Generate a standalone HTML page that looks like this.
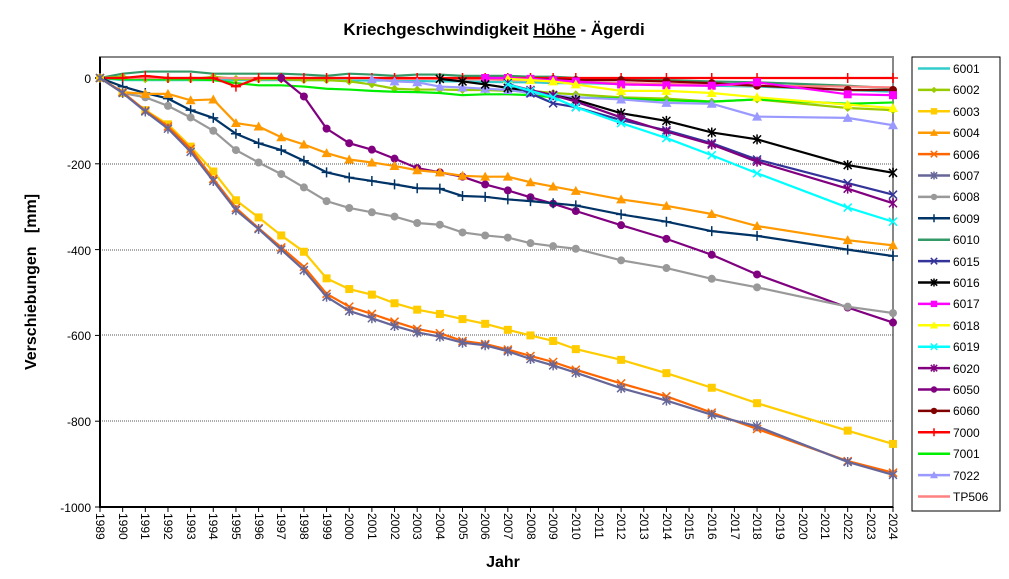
<!DOCTYPE html>
<html><head><meta charset="utf-8"><style>
body{margin:0;background:#fff;width:1009px;height:574px;overflow:hidden;font-family:"Liberation Sans",Arial,sans-serif}
svg text{font-family:"Liberation Sans",Arial,sans-serif}
</style></head><body>
<svg id="s" width="1009" height="574" xmlns="http://www.w3.org/2000/svg">
<rect width="1009" height="574" fill="#fff"/>
<text x="494" y="35" font-size="17" font-weight="bold" text-anchor="middle">Kriechgeschwindigkeit <tspan text-decoration="underline">Höhe</tspan> - Ägerdi</text>
<text transform="translate(36,282) rotate(-90)" font-size="16" font-weight="bold" text-anchor="middle" xml:space="preserve">Verschiebungen   [mm]</text>
<text x="503" y="567" font-size="16" font-weight="bold" text-anchor="middle">Jahr</text>
<rect x="100" y="57" width="793" height="450" fill="none" stroke="#888" stroke-width="2"/>
<g stroke="#555" stroke-dasharray="1,1" stroke-width="1">
<line x1="100" y1="164" x2="893" y2="164"/><line x1="100" y1="250" x2="893" y2="250"/>
<line x1="100" y1="335" x2="893" y2="335"/><line x1="100" y1="421" x2="893" y2="421"/>
</g>
<line x1="100" y1="57" x2="100" y2="508" stroke="#000" stroke-width="2"/>
<line x1="99" y1="507" x2="893" y2="507" stroke="#000" stroke-width="2"/>
<g font-size="12" text-anchor="end">
<text x="91" y="83">0</text><text x="91" y="169">-200</text><text x="91" y="255">-400</text>
<text x="91" y="340">-600</text><text x="91" y="426">-800</text><text x="91" y="512">-1000</text>
</g>
<g id="ticks"></g>
<g font-size="12" id="yl">
<text transform="translate(96,513) rotate(90)">1989</text>
<text transform="translate(119,513) rotate(90)">1990</text>
<text transform="translate(141,513) rotate(90)">1991</text>
<text transform="translate(164,513) rotate(90)">1992</text>
<text transform="translate(187,513) rotate(90)">1993</text>
<text transform="translate(209,513) rotate(90)">1994</text>
<text transform="translate(232,513) rotate(90)">1995</text>
<text transform="translate(255,513) rotate(90)">1996</text>
<text transform="translate(277,513) rotate(90)">1997</text>
<text transform="translate(300,513) rotate(90)">1998</text>
<text transform="translate(323,513) rotate(90)">1999</text>
<text transform="translate(345,513) rotate(90)">2000</text>
<text transform="translate(368,513) rotate(90)">2001</text>
<text transform="translate(391,513) rotate(90)">2002</text>
<text transform="translate(413,513) rotate(90)">2003</text>
<text transform="translate(436,513) rotate(90)">2004</text>
<text transform="translate(459,513) rotate(90)">2005</text>
<text transform="translate(481,513) rotate(90)">2006</text>
<text transform="translate(504,513) rotate(90)">2007</text>
<text transform="translate(527,513) rotate(90)">2008</text>
<text transform="translate(549,513) rotate(90)">2009</text>
<text transform="translate(572,513) rotate(90)">2010</text>
<text transform="translate(595,513) rotate(90)">2011</text>
<text transform="translate(617,513) rotate(90)">2012</text>
<text transform="translate(640,513) rotate(90)">2013</text>
<text transform="translate(663,513) rotate(90)">2014</text>
<text transform="translate(685,513) rotate(90)">2015</text>
<text transform="translate(708,513) rotate(90)">2016</text>
<text transform="translate(731,513) rotate(90)">2017</text>
<text transform="translate(753,513) rotate(90)">2018</text>
<text transform="translate(776,513) rotate(90)">2019</text>
<text transform="translate(799,513) rotate(90)">2020</text>
<text transform="translate(821,513) rotate(90)">2021</text>
<text transform="translate(844,513) rotate(90)">2022</text>
<text transform="translate(867,513) rotate(90)">2023</text>
<text transform="translate(889,513) rotate(90)">2024</text>
</g>
<g id="series"></g>
<rect x="912" y="57" width="88" height="454" fill="#fff" stroke="#000" stroke-width="1"/>
<g id="leg"></g>
<g font-size="12">
<text x="953" y="73">6001</text><text x="953" y="94">6002</text><text x="953" y="116">6003</text>
<text x="953" y="137">6004</text><text x="953" y="159">6006</text><text x="953" y="180">6007</text>
<text x="953" y="201">6008</text><text x="953" y="223">6009</text><text x="953" y="244">6010</text>
<text x="953" y="266">6015</text><text x="953" y="287">6016</text><text x="953" y="308">6017</text>
<text x="953" y="330">6018</text><text x="953" y="351">6019</text><text x="953" y="373">6020</text>
<text x="953" y="394">6050</text><text x="953" y="415">6060</text><text x="953" y="437">7000</text>
<text x="953" y="458">7001</text><text x="953" y="480">7022</text><text x="953" y="501">TP506</text>
</g>
</svg>
<script>
var NS="http://www.w3.org/2000/svg";
function X(y){return 100+(y-1989)*22.657;}
function Y(v){return 78-v*0.429;}
var yrs=[];for(var i=1989;i<=2010;i++)yrs.push(i);yrs=yrs.concat([2012,2014,2016,2018,2022,2024]);
function el(n,a,p){var e=document.createElementNS(NS,n);for(var k in a)e.setAttribute(k,a[k]);p.appendChild(e);return e;}
var tk=document.getElementById('ticks');
for(var y=1989;y<=2024;y++)el('line',{x1:X(y),y1:507,x2:X(y),y2:512,stroke:'#000'},tk);
[0,-200,-400,-600,-800,-1000].forEach(function(v){el('line',{x1:95,y1:Y(v),x2:100,y2:Y(v),stroke:'#000'},tk);});
var N=null;
var S=[
['6001','#33cccc','none',[0,-5,-5,-5,-5,-5,-5,-5,-5,-5,-5,-6,-6,-6,-7,-8,-8,-9,-10,-10,-12,-12,-14,-16,-18,-20,-28,-32]],
['6010','#339966','none',[0,10,15,15,15,10,10,10,10,8,5,10,8,5,8,8,5,5,5,3,3,0,-2,-5,-8,-10,-18,-24]],
['6002','#99cc00','dia',[0,3,-3,-3,-3,3,-2,-3,-3,-5,-5,-8,-15,-25,-27,-27,-28,-28,-30,-30,-35,-38,-45,-48,-55,-50,-70,-75]],
['7001','#00ee00','none',[0,-3,-3,-3,-3,-5,-12,-17,-17,-20,-25,-27,-30,-32,-33,-35,-40,-38,-38,-40,-45,-45,-48,-52,-55,-50,-60,-57]],
['TP506','#ff8080','none',[0,0,0,0,0,0,0,0,0,0,0,0,0,-2,-2,-2,-3,-3,-5,-5,-8,-10,-12,-14,-15,-18,-20,-22]],
['7000','#ff0000','plus',[0,0,5,0,0,0,-20,0,0,0,0,0,0,0,0,0,0,0,0,0,0,0,0,0,0,0,0,0]],
['6060','#800000','circ',[N,N,N,N,N,N,N,N,N,N,N,N,N,N,N,N,N,N,N,-2,-3,-5,-5,-8,-12,-18,-28,-28]],
['6017','#ff00ff','sq',[N,N,N,N,N,N,N,N,N,N,N,N,N,N,N,N,N,0,0,-2,-5,-8,-15,-17,-18,-10,-38,-40]],
['6018','#ffff00','tri',[N,N,N,N,N,N,N,N,N,N,N,N,N,N,N,N,N,N,-2,-5,-8,-15,-30,-30,-35,-45,-62,-70]],
['7022','#9999ff','tri',[N,N,N,N,N,N,N,N,N,N,N,N,-3,-8,-10,-20,-22,-25,-28,-35,-40,-45,-50,-58,-60,-90,-93,-110]],
['6016','#000000','star',[N,N,N,N,N,N,N,N,N,N,N,N,N,N,N,-2,-8,-15,-23,-30,-40,-51,-82,-100,-127,-143,-203,-221]],
['6015','#333399','x',[N,N,N,N,N,N,N,N,N,N,N,N,N,N,N,N,N,N,-12,-36,-59,-68,-98,-122,-152,-190,-245,-272]],
['6020','#800080','star',[N,N,N,N,N,N,N,N,N,N,N,N,N,N,N,N,N,N,-15,-28,-40,-55,-92,-125,-155,-195,-258,-292]],
['6019','#00ffff','x',[N,N,N,N,N,N,N,N,N,N,N,N,N,N,N,N,N,N,-15,-30,-45,-68,-105,-140,-180,-222,-302,-335]],
['6050','#800080','circ',[N,N,N,N,N,N,N,N,0,-43,-118,-152,-167,-188,-210,-220,-230,-248,-262,-278,-293,-310,-343,-375,-412,-458,-535,-570]],
['6009','#003366','plus',[0,-20,-35,-48,-75,-93,-130,-152,-168,-193,-220,-232,-240,-248,-257,-258,-275,-277,-283,-287,-292,-297,-318,-335,-357,-368,-400,-415]],
['6008','#999999','circ',[0,-35,-45,-65,-92,-123,-168,-197,-224,-255,-287,-303,-313,-323,-338,-342,-360,-367,-372,-385,-392,-398,-425,-443,-468,-488,-533,-548]],
['6004','#ff9900','tri',[0,-33,-37,-37,-52,-50,-105,-113,-138,-155,-175,-190,-197,-205,-215,-220,-228,-230,-230,-243,-253,-263,-283,-298,-317,-345,-378,-390]],
['6003','#ffcc00','sq',[0,-35,-75,-108,-160,-218,-285,-325,-367,-405,-467,-492,-505,-525,-540,-550,-562,-573,-587,-600,-613,-632,-657,-688,-722,-758,-822,-853]],
['6006','#ff6600','x',[0,-33,-76,-113,-165,-235,-303,-350,-395,-440,-503,-533,-550,-568,-585,-595,-613,-620,-633,-648,-662,-680,-712,-742,-780,-818,-893,-920]],
['6007','#666699','star',[0,-35,-78,-118,-172,-240,-308,-352,-400,-448,-510,-543,-560,-578,-593,-603,-617,-623,-637,-655,-670,-687,-723,-752,-785,-812,-895,-925]]
];
function mark(t,x,y,c,g,s){s=s||1;
 if(t=='circ')el('circle',{cx:x,cy:y,r:4*s,fill:c},g);
 else if(t=='sq')el('rect',{x:x-4*s,y:y-4*s,width:8*s,height:8*s,fill:c},g);
 else if(t=='tri')el('polygon',{points:(x)+','+(y-5*s)+' '+(x+5*s)+','+(y+4*s)+' '+(x-5*s)+','+(y+4*s),fill:c},g);
 else if(t=='dia')el('polygon',{points:x+','+(y-4*s)+' '+(x+4*s)+','+y+' '+x+','+(y+4*s)+' '+(x-4*s)+','+y,fill:c},g);
 else if(t=='plus')el('path',{d:'M'+(x-5*s)+' '+y+'h'+10*s+'M'+x+' '+(y-5*s)+'v'+10*s,stroke:c,'stroke-width':1.5},g);
 else if(t=='x')el('path',{d:'M'+(x-4*s)+' '+(y-4*s)+'l'+8*s+' '+8*s+'M'+(x+4*s)+' '+(y-4*s)+'l'+(-8*s)+' '+8*s,stroke:c,'stroke-width':1.5},g);
 else if(t=='star')el('path',{d:'M'+(x-4*s)+' '+(y-4*s)+'l'+8*s+' '+8*s+'M'+(x+4*s)+' '+(y-4*s)+'l'+(-8*s)+' '+8*s+'M'+x+' '+(y-5*s)+'v'+10*s,stroke:c,'stroke-width':1.5},g);
}
var sg=document.getElementById('series');
S.forEach(function(s){var pts=[];s[3].forEach(function(v,i){if(v!==null)pts.push([X(yrs[i]),Y(v)]);});
 el('polyline',{points:pts.map(function(p){return p.join(',')}).join(' '),fill:'none',stroke:s[1],'stroke-width':2.2},sg);
 pts.forEach(function(p){mark(s[2],p[0],p[1],s[1],sg);});});
var order=['6001','6002','6003','6004','6006','6007','6008','6009','6010','6015','6016','6017','6018','6019','6020','6050','6060','7000','7001','7022','TP506'];
var lg=document.getElementById('leg');
order.forEach(function(n,i){var s=S.filter(function(q){return q[0]==n})[0];var y=68.5+i*21.4;
 el('line',{x1:918,y1:y,x2:950,y2:y,stroke:s[1],'stroke-width':2.5},lg);mark(s[2],934,y,s[1],lg,0.8);});
</script>
</body></html>
